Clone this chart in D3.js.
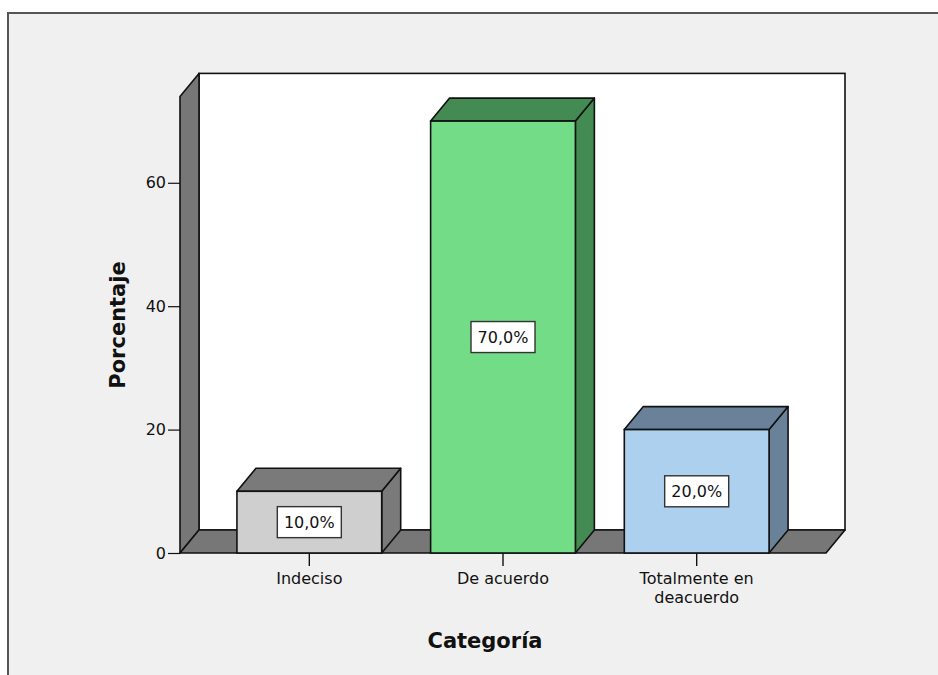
<!DOCTYPE html>
<html>
<head>
<meta charset="utf-8">
<script src="https://cdn.jsdelivr.net/npm/d3@7"></script>
<style>
  html, body { margin: 0; padding: 0; background: #ffffff; }
  svg { display: block; }
  text { font-family: "DejaVu Sans", Verdana, sans-serif; fill: #111; }
</style>
</head>
<body>
<script>
// Survey result: share of answers per category
const categories = ["Indeciso", "De acuerdo", "Totalmente en deacuerdo"];
const categoryLines = [["Indeciso"], ["De acuerdo"], ["Totalmente en", "deacuerdo"]];
const percentages = [10.0, 70.0, 20.0];
const yTicks = [0, 20, 40, 60];
const frontColors = ["#cfcfcf", "#72dc87", "#acd0ee"];
const shadeColors = ["#7a7a7a", "#438a53", "#6a8299"];

const W = 938, H = 675;
const svg = d3.select("body").append("svg").attr("width", W).attr("height", H);

// panel background and frame
svg.append("rect").attr("x", 0).attr("y", 0).attr("width", W).attr("height", H).attr("fill", "#ffffff");
svg.append("rect").attr("x", 8).attr("y", 13).attr("width", W + 20).attr("height", H + 20)
  .attr("fill", "#f0f0f0").attr("stroke", "#555").attr("stroke-width", 2);

// plot geometry: front plane and depth offset of the 3D box
const left = 180, right = 826, base = 553;
const dx = 19, dy = -23;

const x = d3.scaleBand().domain(categories).range([left, right])
  .paddingInner(0.2526).paddingOuter(0.294);
const y = d3.scaleLinear().domain([0, 74]).range([base, 96.4]);

const yTop = y(74);
const stroke = "#111", sw = 1.6;

// back wall
svg.append("rect")
  .attr("x", left + dx).attr("y", yTop + dy)
  .attr("width", right - left).attr("height", base - yTop)
  .attr("fill", "#ffffff").attr("stroke", stroke).attr("stroke-width", sw);

// left wall
svg.append("path")
  .attr("d", `M${left},${base} L${left},${yTop} L${left + dx},${yTop + dy} L${left + dx},${base + dy} Z`)
  .attr("fill", "#777777").attr("stroke", stroke).attr("stroke-width", sw).attr("stroke-linejoin", "round");

// floor
svg.append("path")
  .attr("d", `M${left},${base} L${left + dx},${base + dy} L${right + dx},${base + dy} L${right},${base} Z`)
  .attr("fill", "#777777").attr("stroke", stroke).attr("stroke-width", sw).attr("stroke-linejoin", "round");

// bars as 3D blocks
const bars = svg.append("g").selectAll("g").data(categories).join("g");
bars.each(function (c, i) {
  const g = d3.select(this);
  const x0 = x(c), x1 = x(c) + x.bandwidth();
  const y0 = base, y1 = y(percentages[i]);
  // side
  g.append("path")
    .attr("d", `M${x1},${y0} L${x1},${y1} L${x1 + dx},${y1 + dy} L${x1 + dx},${y0 + dy} Z`)
    .attr("fill", shadeColors[i]).attr("stroke", stroke).attr("stroke-width", sw).attr("stroke-linejoin", "round");
  // top
  g.append("path")
    .attr("d", `M${x0},${y1} L${x0 + dx},${y1 + dy} L${x1 + dx},${y1 + dy} L${x1},${y1} Z`)
    .attr("fill", shadeColors[i]).attr("stroke", stroke).attr("stroke-width", sw).attr("stroke-linejoin", "round");
  // front
  g.append("rect")
    .attr("x", x0).attr("y", y1).attr("width", x1 - x0).attr("height", y0 - y1)
    .attr("fill", frontColors[i]).attr("stroke", stroke).attr("stroke-width", sw);

  // value label in a box
  const cx = (x0 + x1) / 2, cy = (y0 + y1) / 2;
  const label = d3.format(".1f")(percentages[i]).replace(".", ",") + "%";
  const bw = 64, bh = 31;
  g.append("rect")
    .attr("x", cx - bw / 2).attr("y", cy - bh / 2).attr("width", bw).attr("height", bh)
    .attr("fill", "#ffffff").attr("stroke", "#333").attr("stroke-width", 1.4);
  g.append("text")
    .attr("x", cx).attr("y", cy).attr("dy", "0.36em")
    .attr("text-anchor", "middle").attr("font-size", 16).text(label);
});

// y axis on the front-left edge
const yAxis = d3.axisLeft(y).tickValues(yTicks).tickSize(12).tickPadding(2).tickFormat(d3.format("d"));
const gy = svg.append("g").attr("transform", `translate(${left},0)`).call(yAxis);
gy.select(".domain").remove();
gy.selectAll(".tick line").attr("stroke", "#111").attr("stroke-width", 1.2);
gy.selectAll(".tick text").attr("font-size", 16).attr("font-family", "DejaVu Sans, sans-serif").attr("fill", "#111");

// x axis along the floor front edge
const xAxis = d3.axisBottom(x).tickSize(13).tickFormat(() => "");
const gx = svg.append("g").attr("transform", `translate(0,${base})`).call(xAxis);
gx.select(".domain").remove();
gx.selectAll(".tick line").attr("stroke", "#111").attr("stroke-width", 1.4);
gx.selectAll(".tick").each(function (c, i) {
  const t = d3.select(this).append("text")
    .attr("text-anchor", "middle").attr("font-size", 16)
    .attr("font-family", "DejaVu Sans, sans-serif").attr("fill", "#111");
  categoryLines[i].forEach((line, k) => {
    t.append("tspan").attr("x", 0).attr("y", 31 + k * 19).text(line);
  });
});

// axis titles
svg.append("text")
  .attr("x", 485).attr("y", 648)
  .attr("text-anchor", "middle").attr("font-size", 21).attr("font-weight", "bold")
  .text("Categoría");
svg.append("text")
  .attr("transform", "translate(125,325) rotate(-90)")
  .attr("text-anchor", "middle").attr("font-size", 21).attr("font-weight", "bold")
  .text("Porcentaje");
</script>
</body>
</html>
